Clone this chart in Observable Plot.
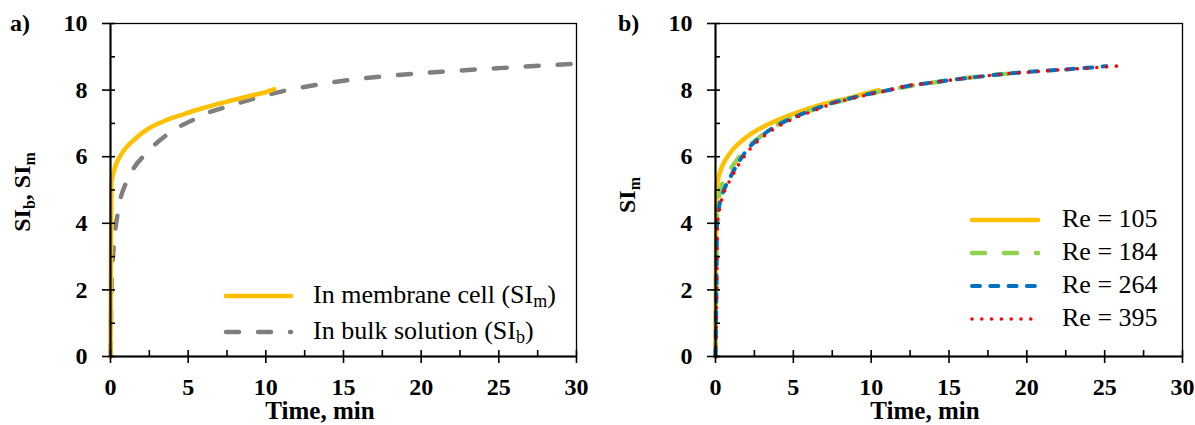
<!DOCTYPE html>
<html><head><meta charset="utf-8">
<script src="https://cdn.jsdelivr.net/npm/d3@7"></script>
<script src="https://cdn.jsdelivr.net/npm/@observablehq/plot@0.6"></script>
<style>
body{margin:0;background:#fff}
#wrap{display:flex;width:1195px;height:425px;background:#fff}
#wrap svg text, #wrap svg tspan {font-family: "Liberation Serif", "Times New Roman", Times, serif !important;}
</style>
</head><body><div id="wrap"></div>
<script>
// ---------- data ----------
const xMajorTicks = [0, 5, 10, 15, 20, 25, 30];
const xAllTicks = [0, 2.5, 5, 7.5, 10, 12.5, 15, 17.5, 20, 22.5, 25, 27.5, 30];
const yMajorTicks = [0, 2, 4, 6, 8, 10];
const yAllTicks = [0, 1, 2, 3, 4, 5, 6, 7, 8, 9, 10];

// panel a
const timeMembrane = [0, 0.03, 0.06, 0.15, 0.3, 0.6, 1.0, 1.5, 2.0, 2.58, 3.6, 4.73, 5.8, 6.88, 8.0, 9.03, 10.0, 10.54];
const siMembrane   = [0, 3.0, 5.2, 5.45, 5.7, 6.0, 6.27, 6.5, 6.7, 6.88, 7.1, 7.28, 7.44, 7.58, 7.71, 7.83, 7.94, 8.03];
const timeBulk = [0, 0.03, 0.07, 0.19, 0.35, 0.5, 0.65, 0.97, 1.5, 2.15, 2.8, 3.55, 4.5, 5.48, 6.34, 7.35, 8.39, 9.35, 10.3, 11.4, 12.3, 13.8, 15.5, 18, 21.3, 25, 30];
const siBulk   = [0, 1.0, 2.2, 3.2, 3.95, 4.38, 4.75, 5.18, 5.66, 6.03, 6.34, 6.63, 6.92, 7.14, 7.33, 7.48, 7.63, 7.76, 7.88, 8.0, 8.08, 8.2, 8.31, 8.43, 8.55, 8.66, 8.79];

// panel b
const time105 = [0, 0.03, 0.06, 0.15, 0.32, 0.7, 1.18, 1.7, 2.26, 3.3, 4.42, 5.5, 6.58, 7.6, 8.73, 9.6, 10.46];
const si105   = [0, 3.0, 4.95, 5.28, 5.58, 5.95, 6.25, 6.48, 6.68, 6.95, 7.18, 7.37, 7.53, 7.66, 7.78, 7.9, 8.0];
const time184 = [0, 0.05, 0.1, 0.3, 0.6, 1, 1.8, 3, 4, 5, 6, 7, 8, 9, 10, 11, 12, 13, 14, 15, 16, 17, 18, 19, 20];
const si184   = [0, 2.5, 4.3, 4.95, 5.35, 5.65, 6.15, 6.65, 6.96, 7.18, 7.37, 7.53, 7.67, 7.79, 7.9, 8.0, 8.08, 8.16, 8.23, 8.3, 8.36, 8.41, 8.46, 8.5, 8.54];
const time264 = [0, 0.06, 0.1, 0.25, 0.43, 0.97, 1.83, 3.12, 4.2, 5.28, 6.5, 7.65, 8.7, 9.8, 11, 12.3, 13.5, 14.77, 16.5, 18.43, 20.8, 22.5, 23.93, 25.1];
const si264   = [0, 2.0, 4.0, 4.55, 4.85, 5.4, 6.08, 6.68, 7.0, 7.23, 7.45, 7.63, 7.76, 7.88, 7.99, 8.12, 8.2, 8.28, 8.38, 8.48, 8.57, 8.62, 8.67, 8.72];
const time395 = [0, 0.08, 0.12, 0.27, 0.45, 1.0, 1.9, 3.2, 4.3, 5.35, 6.6, 7.7, 8.8, 9.9, 11.1, 12.29, 13.5, 14.77, 16.5, 18.43, 20.8, 22.5, 23.93, 25.76];
const si395   = [0, 2.0, 3.9, 4.45, 4.78, 5.35, 6.04, 6.65, 6.98, 7.21, 7.43, 7.62, 7.75, 7.87, 7.99, 8.13, 8.2, 8.28, 8.38, 8.48, 8.56, 8.62, 8.66, 8.72];

const legendA = ["In membrane cell", "In bulk solution"];
const legendASub = ["m", "b"];
const legendB = ["Re = 105", "Re = 184", "Re = 264", "Re = 395"];

// ---------- styles ----------
const FONT = "Liberation Serif, Times New Roman, Times, serif";
const sYellow = {stroke: "#FFC000", strokeWidth: 4.5};
const sGray = {stroke: "#7F7F7F", strokeWidth: 4.5, strokeDasharray: "13,19"};
const sGreen = {stroke: "#92D050", strokeWidth: 4.5, strokeDasharray: "13,19"};
const sBlue = {stroke: "#0070C0", strokeWidth: 4, strokeDasharray: "8,10.3"};
const sRed = {stroke: "#FF0000", strokeWidth: 3.6, strokeDasharray: "0,9.8"};

const rows = (ts, vs) => ts.map((t, i) => ({t, v: vs[i]}));

function panel({width, marginLeft, marginRight, series}) {
  const height = 425, marginTop = 23, marginBottom = 69;
  const fw = width - marginLeft - marginRight, fh = height - marginTop - marginBottom;
  const marks = [
    ...series.map(s => Plot.line(rows(s.t, s.v), {x: "t", y: "v", curve: "monotone-x", strokeLinecap: "round", strokeLinejoin: "round", ...s.style})),
    Plot.frame({stroke: "black", strokeWidth: 1.3}),
    Plot.ruleX([0], {stroke: "black", strokeWidth: 2}),
    Plot.ruleY([0], {stroke: "black", strokeWidth: 2}),
    Plot.axisX({ticks: xMajorTicks, tickSize: 7, tickPadding: 14, label: null, strokeWidth: 1.6}),
    Plot.tickX(xAllTicks, {x: d => d, insetTop: fh - 6, stroke: "black", strokeWidth: 1.6}),
    Plot.axisY({ticks: yMajorTicks, tickSize: 8, tickPadding: 15, label: null, strokeWidth: 1.6}),
    Plot.tickY(yAllTicks, {y: d => d, insetRight: fw - 5, stroke: "black", strokeWidth: 1.6})
  ];
  const svg = Plot.plot({
    width, height, marginLeft, marginRight, marginTop, marginBottom,
    x: {domain: [0, 30]}, y: {domain: [0, 10]},
    style: {fontFamily: FONT, fontSize: "24px", fontWeight: "bold", background: "white", overflow: "visible", color: "black"},
    marks
  });
  return {svg, fw, fh, marginLeft, marginTop};
}

function legendLine(g, x1, x2, y, st) {
  g.append("line").attr("x1", x1).attr("x2", x2).attr("y1", y).attr("y2", y)
    .attr("stroke", st.stroke).attr("stroke-width", st.strokeWidth)
    .attr("stroke-dasharray", st.strokeDasharray || null)
    .attr("stroke-linecap", "round");
}

const wrap = document.getElementById("wrap");

// ---------- panel a ----------
const A = panel({width: 597, marginLeft: 110, marginRight: 21, series: [
  {t: timeBulk, v: siBulk, style: sGray},
  {t: timeMembrane, v: siMembrane, style: sYellow}
]});
wrap.appendChild(A.svg);
{
  const g = d3.select(A.svg).append("g").attr("font-family", FONT).attr("text-anchor", "start");
  g.append("text").attr("x", 10).attr("y", 31).attr("font-size", 24).attr("font-weight", "bold").text("a)");
  g.append("text").attr("x", 320).attr("y", 419).attr("text-anchor", "middle")
    .attr("font-size", 25).attr("font-weight", "bold").text("Time, min");
  const yl = g.append("text").attr("transform", "translate(30,192) rotate(-90)").attr("text-anchor", "middle")
    .attr("font-size", 24).attr("font-weight", "bold");
  yl.append("tspan").text("SI");
  yl.append("tspan").attr("font-size", 16).attr("dy", 5).text("b");
  yl.append("tspan").attr("dy", -5).text(", SI");
  yl.append("tspan").attr("font-size", 16).attr("dy", 5).text("m");
  const lg = [sYellow, sGray];
  const ly = [296, 332];
  lg.forEach((st, i) => {
    legendLine(g, 226, 291, ly[i], st);
    const t = g.append("text").attr("x", 313).attr("y", ly[i] + 7).attr("text-anchor", "start")
      .attr("font-size", 26).attr("font-weight", "normal");
    t.append("tspan").text(legendA[i] + " (SI");
    t.append("tspan").attr("font-size", 18).attr("dy", 4).text(legendASub[i]);
    t.append("tspan").attr("dy", -4).text(")");
  });
}

// ---------- panel b ----------
const B = panel({width: 598, marginLeft: 118, marginRight: 13, series: [
  {t: time105, v: si105, style: sYellow},
  {t: time184, v: si184, style: sGreen},
  {t: time264, v: si264, style: sBlue},
  {t: time395, v: si395, style: sRed}
]});
wrap.appendChild(B.svg);
{
  const g = d3.select(B.svg).append("g").attr("font-family", FONT).attr("text-anchor", "start");
  g.append("text").attr("x", 21).attr("y", 31).attr("font-size", 24).attr("font-weight", "bold").text("b)");
  g.append("text").attr("x", 925 - 597).attr("y", 419).attr("text-anchor", "middle")
    .attr("font-size", 25).attr("font-weight", "bold").text("Time, min");
  const yl = g.append("text").attr("transform", "translate(38,195) rotate(-90)").attr("text-anchor", "middle")
    .attr("font-size", 24).attr("font-weight", "bold");
  yl.append("tspan").text("SI");
  yl.append("tspan").attr("font-size", 16).attr("dy", 5).text("m");
  const lg = [sYellow, sGreen, sBlue, sRed];
  const ly = [220, 253, 286, 319];
  lg.forEach((st, i) => {
    legendLine(g, 375, 441, ly[i], st);
    g.append("text").attr("x", 465).attr("y", ly[i] + 7).attr("text-anchor", "start")
      .attr("font-size", 26).attr("font-weight", "normal").text(legendB[i]);
  });
}
</script></body></html>
